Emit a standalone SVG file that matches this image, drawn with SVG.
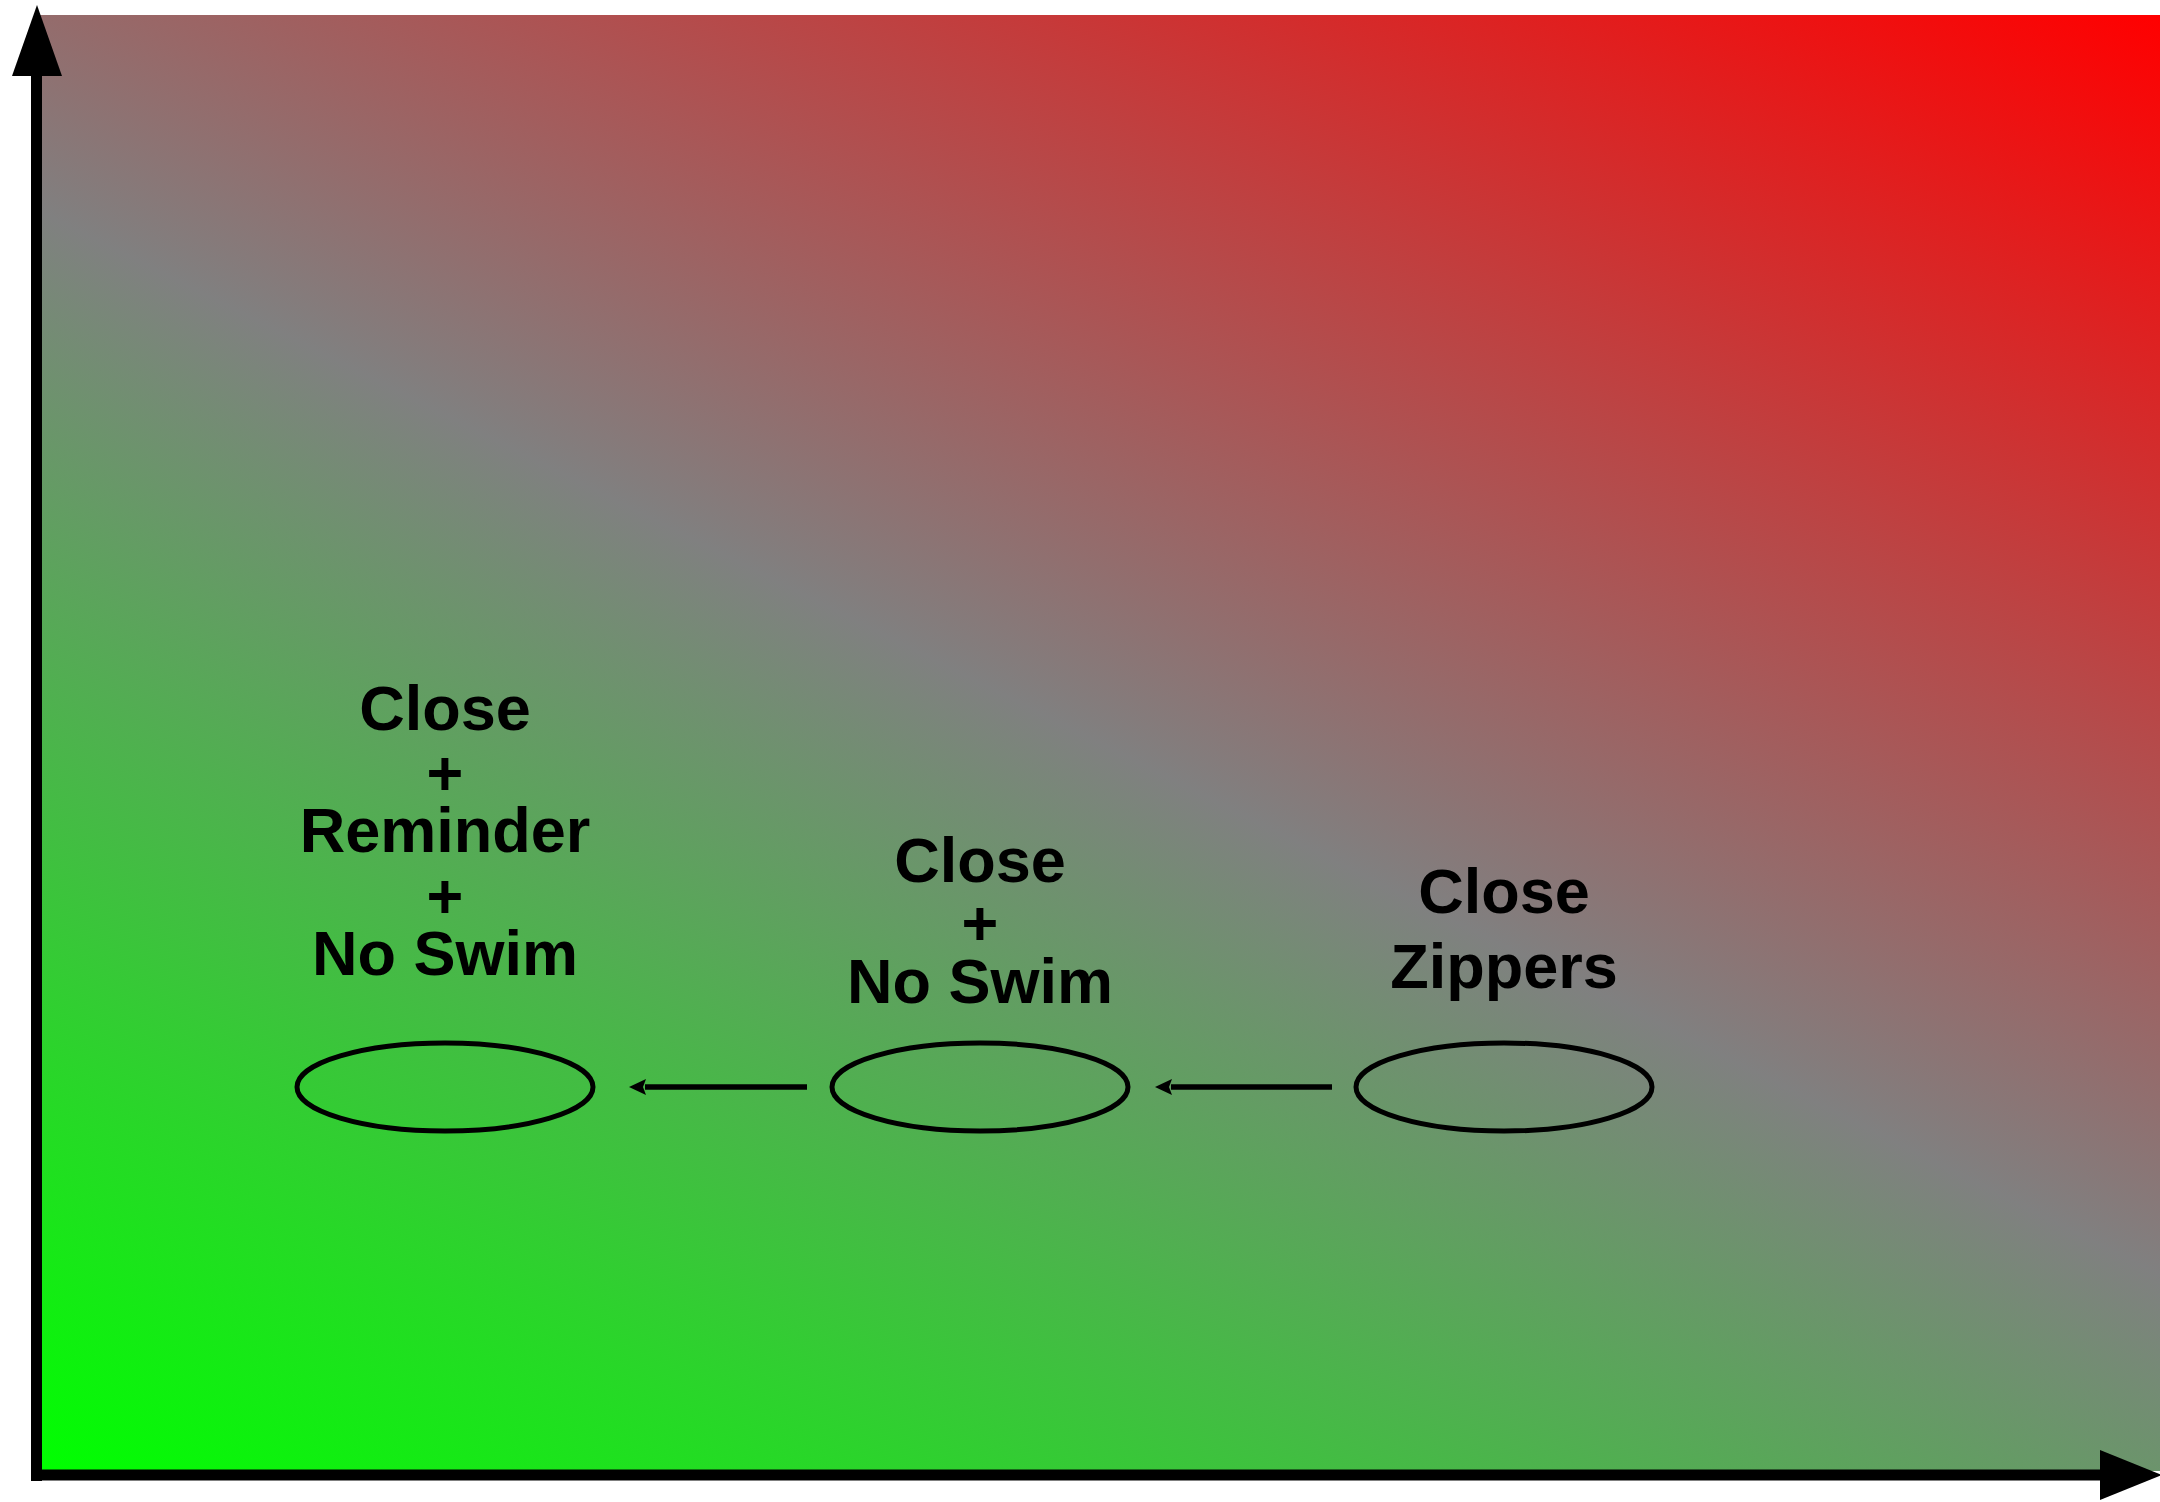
<svg xmlns="http://www.w3.org/2000/svg" width="2160" height="1502" viewBox="0 0 2160 1502">
<defs>
<linearGradient id="bg" x1="0" y1="1" x2="0.8239" y2="-0.1286">
<stop offset="0" stop-color="#00ff00"/>
<stop offset="0.5" stop-color="#808080"/>
<stop offset="1" stop-color="#ff0000"/>
</linearGradient>
</defs>
<style>
.lbl{font-family:"Liberation Sans",Arial,sans-serif;font-weight:bold;font-size:63px;fill:#000;text-anchor:middle}
.node{fill:none;stroke:#000;stroke-width:5}
.conn{stroke:#000;stroke-width:5.5;fill:none}
.head{fill:#000}
</style>
<rect x="0" y="0" width="2160" height="1502" fill="#ffffff"/>
<rect x="40" y="15" width="2120" height="1456" fill="url(#bg)"/>
<g id="axes">
<line x1="36.5" y1="70" x2="36.5" y2="1481" stroke="#000" stroke-width="11"/>
<polygon points="12,76 37,5 62,76" fill="#000"/>
<line x1="31" y1="1475" x2="2102" y2="1475" stroke="#000" stroke-width="11"/>
<polygon points="2100,1450 2162,1475 2100,1500" fill="#000"/>
</g>
<g id="node-left">
<ellipse class="node" cx="445" cy="1087" rx="148" ry="44"/>
<text class="lbl" x="445" y="730">Close</text>
<text class="lbl" x="445" y="795">+</text>
<text class="lbl" x="445" y="852">Reminder</text>
<text class="lbl" x="445" y="918">+</text>
<text class="lbl" x="445" y="975">No Swim</text>
</g>
<g id="node-middle">
<ellipse class="node" cx="980" cy="1087" rx="148" ry="44"/>
<text class="lbl" x="980" y="882">Close</text>
<text class="lbl" x="980" y="945">+</text>
<text class="lbl" x="980" y="1003">No Swim</text>
</g>
<g id="node-right">
<ellipse class="node" cx="1504" cy="1087" rx="148" ry="44"/>
<text class="lbl" x="1504" y="913">Close</text>
<text class="lbl" x="1504" y="988">Zippers</text>
</g>
<g id="connectors">
<line class="conn" x1="807" y1="1087" x2="645" y2="1087"/>
<polygon class="head" points="629,1087 646,1079 643,1087 646,1095"/>
<line class="conn" x1="1332" y1="1087" x2="1171" y2="1087"/>
<polygon class="head" points="1155,1087 1172,1079 1169,1087 1172,1095"/>
</g>
</svg>
